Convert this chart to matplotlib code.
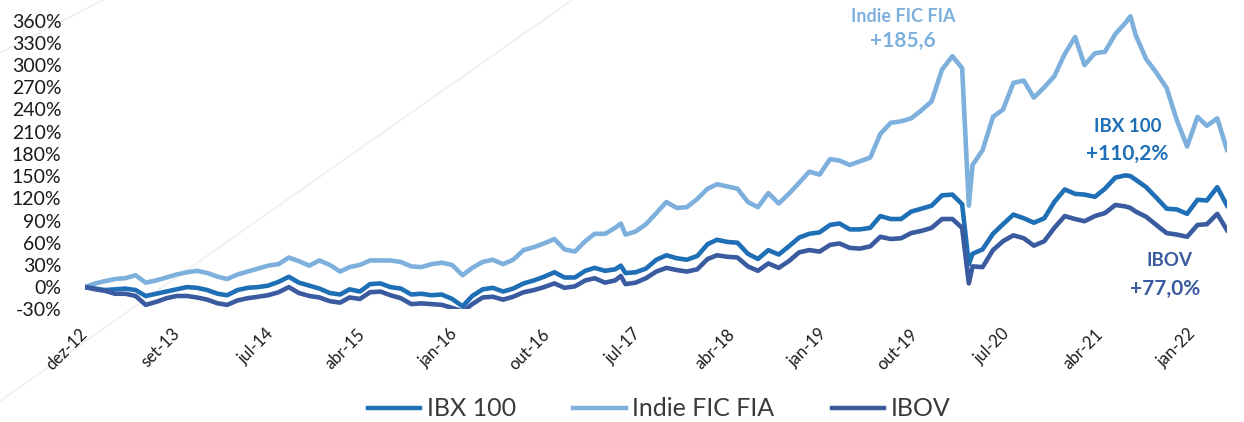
import matplotlib
matplotlib.use("Agg")
import matplotlib.pyplot as plt
import pandas as pd
from matplotlib.lines import Line2D

# datas (fim de mes + alguns pontos intermediarios)
datas = [
    "2012-12-31", "2013-01-31", "2013-02-28", "2013-03-31", "2013-04-30", "2013-05-31",
    "2013-06-30", "2013-07-31", "2013-08-31", "2013-09-30", "2013-10-31", "2013-11-30",
    "2013-12-31", "2014-01-31", "2014-02-28", "2014-03-31", "2014-04-30", "2014-05-31",
    "2014-06-30", "2014-07-31", "2014-08-31", "2014-09-30", "2014-10-31", "2014-11-30",
    "2014-12-31", "2015-01-31", "2015-02-28", "2015-03-31", "2015-04-30", "2015-05-31",
    "2015-06-30", "2015-07-31", "2015-08-31", "2015-09-30", "2015-10-31", "2015-11-30",
    "2015-12-31", "2016-01-31", "2016-02-29", "2016-03-31", "2016-04-30", "2016-05-31",
    "2016-06-30", "2016-07-31", "2016-08-31", "2016-09-30", "2016-10-31", "2016-11-30",
    "2016-12-31", "2017-01-31", "2017-02-28", "2017-03-31", "2017-04-30", "2017-05-17",
    "2017-05-31", "2017-06-30", "2017-07-31", "2017-08-31", "2017-09-30", "2017-10-31",
    "2017-11-30", "2017-12-31", "2018-01-31", "2018-02-28", "2018-03-31", "2018-04-30",
    "2018-05-31", "2018-06-30", "2018-07-31", "2018-08-31", "2018-09-30", "2018-10-31",
    "2018-11-30", "2018-12-31", "2019-01-31", "2019-02-28", "2019-03-31", "2019-04-30",
    "2019-05-31", "2019-06-30", "2019-07-31", "2019-08-31", "2019-09-30", "2019-10-31",
    "2019-11-30", "2019-12-31", "2020-01-31", "2020-02-29", "2020-03-20", "2020-03-31",
    "2020-04-30", "2020-05-31", "2020-06-30", "2020-07-31", "2020-08-31", "2020-09-30",
    "2020-10-31", "2020-11-30", "2020-12-31", "2021-01-31", "2021-02-28", "2021-03-31",
    "2021-04-30", "2021-05-31", "2021-06-30", "2021-07-15", "2021-07-31", "2021-08-31",
    "2021-09-30", "2021-10-31", "2021-11-30", "2021-12-31", "2022-01-31", "2022-02-28",
    "2022-03-31", "2022-04-29",
]

# rentabilidade acumulada (%)
indie = [
    0, 5, 8, 11, 12, 16, 6, 9, 13, 17, 20, 22,
    19, 14, 11, 17, 21, 25, 29, 31, 40, 35, 29, 36,
    30, 21, 27, 30, 36, 36, 36, 34, 28, 27, 31, 33,
    30, 16, 26, 34, 37, 31, 37, 50, 54, 59, 65, 51,
    48, 62, 72, 72, 80, 86, 71, 75, 85, 100, 115, 107,
    108, 119, 133, 139, 136, 133, 115, 108, 127, 113, 126, 141,
    156, 152, 173, 171, 165, 170, 175, 207, 222, 224, 228, 239,
    251, 294, 312, 296, 110, 165, 185, 230, 240, 276, 279, 256,
    270, 285, 315, 338, 300, 316, 318, 342, 357, 366, 340, 308,
    290, 269, 226, 190, 230, 218, 228, 185.6,
]
ibx = [
    0, -2, -4, -3, -2, -4, -12, -9, -6, -3, 0, -1,
    -4, -9, -11, -4, -1, 0, 2, 7, 14, 6, 2, -2,
    -8, -10, -3, -6, 4, 5, 0, -2, -10, -9, -11, -10,
    -16, -26, -12, -3, -1, -6, -2, 5, 9, 14, 20, 13,
    13, 22, 26, 22, 24, 29, 19, 20, 25, 37, 43, 39,
    37, 42, 58, 64, 61, 60, 45, 38, 50, 44, 55, 67,
    72, 74, 84, 86, 78, 78, 80, 96, 92, 92, 102, 106,
    110, 124, 125, 112, 31, 45, 51, 72, 85, 98, 93, 87,
    93, 115, 132, 126, 125, 122, 133, 148, 151, 150, 145, 135,
    121, 106, 105, 99, 118, 117, 135, 110.2,
]
ibov = [
    0, -3, -5, -9, -9, -12, -24, -20, -15, -12, -12, -14,
    -17, -22, -24, -18, -15, -13, -11, -7, 0, -8, -12, -14,
    -19, -21, -14, -16, -7, -6, -11, -15, -23, -22, -23, -24,
    -28, -33, -23, -14, -13, -17, -13, -7, -4, 0, 5, -1,
    1, 9, 12, 6, 9, 15, 4, 6, 12, 21, 26, 23,
    21, 24, 38, 43, 41, 40, 28, 22, 32, 26, 35, 47,
    50, 48, 57, 59, 53, 52, 55, 68, 65, 66, 73, 76,
    80, 92, 92, 80, 5, 28, 27, 50, 62, 70, 66, 56,
    62, 80, 96, 92, 89, 96, 100, 111, 109, 107, 102, 95,
    84, 73, 71, 68, 84, 85, 99, 77.0,
]

# eixo x
tick_datas = ["2012-12-31", "2013-10-03", "2014-07-08", "2015-04-08", "2016-01-09",
              "2016-10-10", "2017-07-08", "2018-04-14", "2019-01-12", "2019-10-13",
              "2020-07-13", "2021-04-16", "2022-01-17"]
tick_labels = ["dez-12", "set-13", "jul-14", "abr-15", "jan-16", "out-16", "jul-17",
               "abr-18", "jan-19", "out-19", "jul-20", "abr-21", "jan-22"]
y_ticks = list(range(-30, 361, 30))

cor_ibx = "#1f6fb6"
cor_indie = "#7db0dc"
cor_ibov = "#3a5ba0"

plt.rcParams["font.family"] = ["Lato", "DejaVu Sans"]

x = pd.to_datetime(datas)

fig = plt.figure(figsize=(12.44, 4.22), dpi=100)
W, H = 1244, 422
# -30% em y=309.3 px, 360% em y=20.7 px; topo livre ate 380%
px_por_pct = (309.3 - 20.7) / 390
y_topo = 20.7 - 20 * px_por_pct
ax = fig.add_axes([85 / W, 1 - 309.3 / H, (1227 - 85) / W, (309.3 - y_topo) / H])
ax.patch.set_alpha(0)

# linhas diagonais do fundo
fig.add_artist(Line2D([0, 103 / W], [1 - 53 / H, 1], transform=fig.transFigure,
                      color="#f0f0f0", lw=1.3, zorder=-5))
fig.add_artist(Line2D([0, 572 / W], [1 - 401 / H, 1], transform=fig.transFigure,
                      color="#f0f0f0", lw=1.3, zorder=-5))

ax.plot(x, ibx, color=cor_ibx, lw=3.3, label="IBX 100", zorder=3)
ax.plot(x, indie, color=cor_indie, lw=3.3, label="Indie FIC FIA", zorder=2)
ax.plot(x, ibov, color=cor_ibov, lw=3.3, label="IBOV", zorder=4)

ax.set_xlim(x[0], x[-1])
ax.set_ylim(-30, 380)
ax.set_yticks(y_ticks)
ax.set_yticklabels([f"{v}%" for v in y_ticks], fontsize=14, color="#1a1a1a")
ax.set_xticks(pd.to_datetime(tick_datas))
ax.set_xticklabels(tick_labels, fontsize=12, color="#1a1a1a", rotation=45,
                   ha="right", va="center", rotation_mode="anchor")
ax.tick_params(axis="y", length=0, pad=17)
ax.tick_params(axis="x", length=0, pad=16)
for s in ax.spines.values():
    s.set_visible(False)

# rotulos
def rotulo(px, py, txt, cor, tam):
    fig.text(px / W, 1 - py / H, txt, color=cor, fontsize=tam, fontweight="bold",
             ha="center", va="center")

rotulo(903, 17, "Indie FIC FIA", cor_indie, 13)
rotulo(903, 41, "+185,6", cor_indie, 15)
rotulo(1128, 126, "IBX 100", cor_ibx, 13.5)
rotulo(1127, 154, "+110,2%", cor_ibx, 15)
rotulo(1170, 261, "IBOV", cor_ibov, 13.5)
rotulo(1165, 289, "+77,0%", cor_ibov, 15)

leg = fig.legend(loc="center", bbox_to_anchor=(659 / W, 1 - 409 / H), ncol=3,
                 frameon=False, fontsize=18, handlelength=2.1, handletextpad=0.25,
                 columnspacing=2.3)
for t in leg.get_texts():
    t.set_color("#3a3a3a")
for l in leg.get_lines():
    l.set_linewidth(3.2)

fig.savefig("out.png", dpi=100)
